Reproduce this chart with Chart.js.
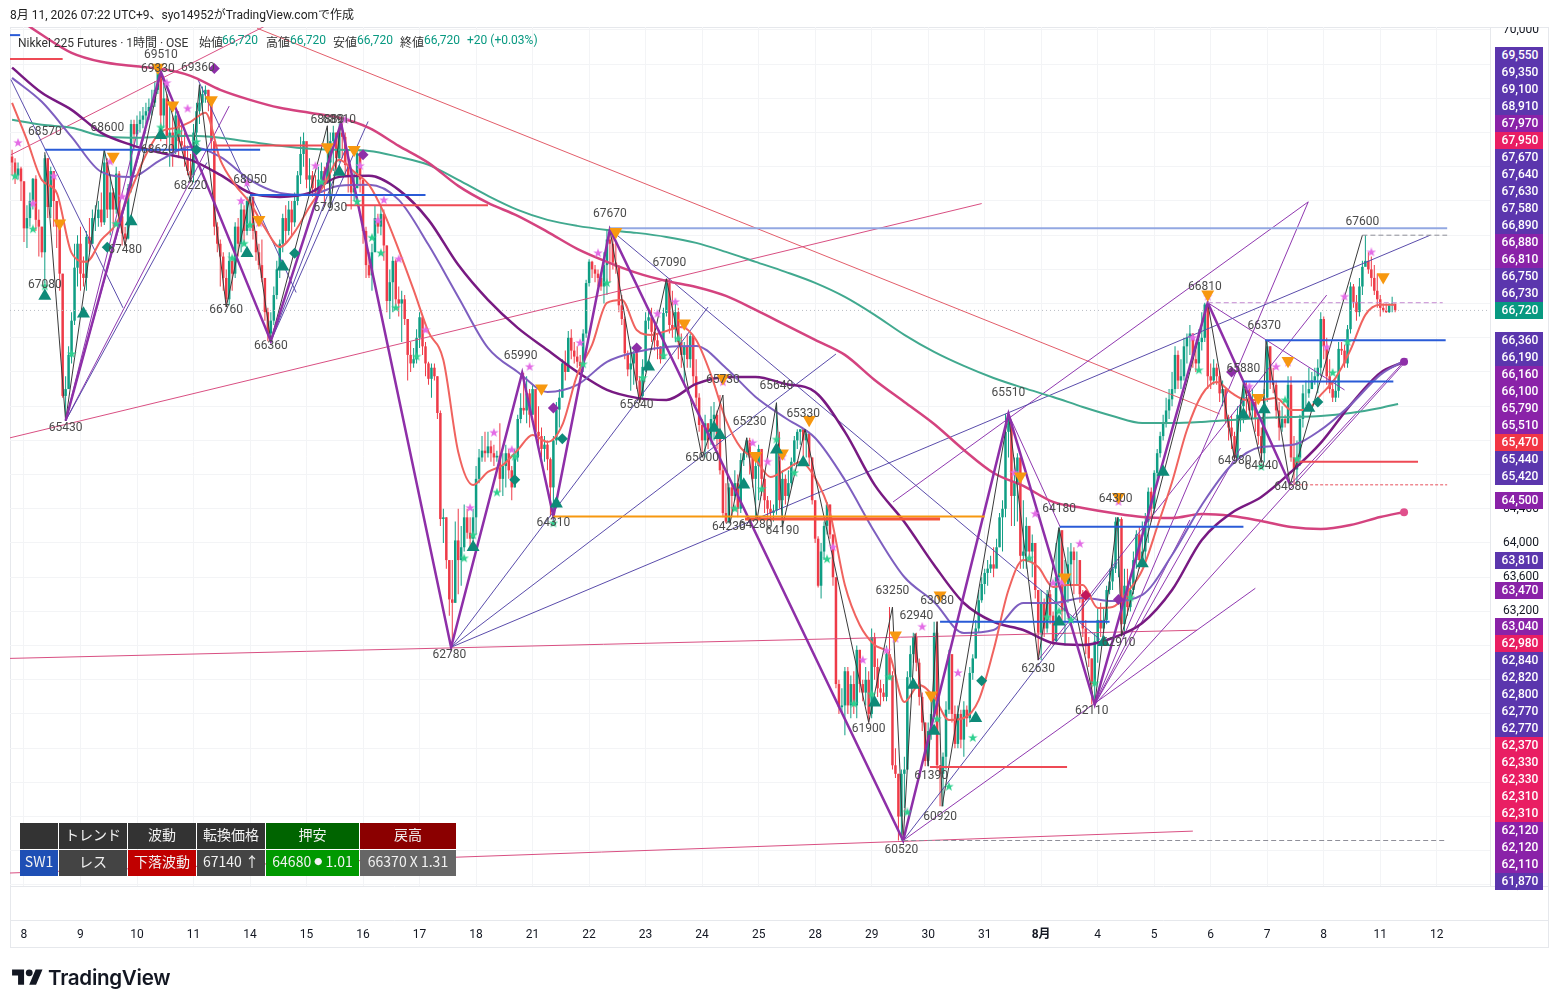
<!DOCTYPE html>
<html lang="ja">
<head>
<meta charset="utf-8">
<title>Nikkei 225 Futures</title>
<script src="https://cdn.jsdelivr.net/npm/chart.js@4"></script>
<style>
  body { margin: 0; background: #fff; font-family: Roboto, "Noto Sans CJK JP", sans-serif; }
  #wrap { position: relative; width: 1558px; height: 1008px; overflow: hidden; }
  #grafico { position: absolute; left: 0; top: 0; }
  #cabecera { position: absolute; left: 0; top: 0; width: 1558px; height: 27px; background: #fff; font-size: 12px; color: #222; }
  #cabecera span { position: absolute; left: 10px; top: 5px; }
  .leyenda { position: absolute; top: 33px; font-size: 12px; color: #333; white-space: nowrap; }
  .leyenda.v { color: #089981; }
  .badge { position: absolute; left: 1495px; width: 46px; padding-left: 2px; height: 17px; text-align: center; color: #fff; font: 500 12px/17px Roboto, sans-serif; }
  #tabla { position: absolute; left: 20px; top: 823px; border-collapse: separate; border-spacing: 1px; margin: -1px; font: 14px/18px "Noto Sans CJK JP", sans-serif; color: #f2f2f2; }
  #tabla td { height: 22px; padding: 0 0 4px 0; text-align: center; white-space: nowrap; }
  #tabla .punto { font-size: 8px; vertical-align: 2px; }
  #logo { position: absolute; left: 12px; top: 966px; }
  #logoTexto { position: absolute; left: 48px; top: 965px; font: 600 20.6px Inter, sans-serif; color: #131722; letter-spacing: -0.3px; }
</style>
</head>
<body>
<div id="wrap">
  <canvas id="grafico" width="1558" height="1008"></canvas>
  <div id="cabecera"><span>8月 11, 2026 07:22 UTC+9、syo14952がTradingView.comで作成</span></div>
  <div class="leyenda" style="left:18px">Nikkei 225 Futures · 1時間 · OSE</div>
  <div class="leyenda" style="left:199px">始値</div><div class="leyenda v" style="left:222px">66,720</div>
  <div class="leyenda" style="left:266px">高値</div><div class="leyenda v" style="left:290px">66,720</div>
  <div class="leyenda" style="left:333px">安値</div><div class="leyenda v" style="left:357px">66,720</div>
  <div class="leyenda" style="left:400px">終値</div><div class="leyenda v" style="left:424px">66,720</div>
  <div class="leyenda v" style="left:467px">+20 (+0.03%)</div>
  <table id="tabla">
    <tr>
      <td style="width:38px;background:#333"></td>
      <td style="width:68px;background:#333">トレンド</td>
      <td style="width:68px;background:#333">波動</td>
      <td style="width:68px;background:#333">転換価格</td>
      <td style="width:93px;background:#006400">押安</td>
      <td style="width:96px;background:#8b0000">戻高</td>
    </tr>
    <tr>
      <td style="background:#1e4fb5">SW1</td>
      <td style="background:#444">レス</td>
      <td style="background:#c00000">下落波動</td>
      <td style="background:#444">67140 ↑</td>
      <td style="background:#009900">64680 <span class="punto">●</span> 1.01</td>
      <td style="background:#666">66370 X 1.31</td>
    </tr>
  </table>
  <svg id="logo" width="31" height="24" viewBox="0 0 36 28"><path fill="#131722" d="M14 22H7V11H0V4h14v18zM28 22h-8l7.5-18h8L28 22z"/><circle fill="#131722" cx="20" cy="8" r="4"/></svg>
  <div id="logoTexto">TradingView</div>
</div>
<script>
// bar numbers: 19 one hour bars per day, bar 0 is the first bar of the 8th
const firstBar = -4;
const dayTicks = [0, 19, 38, 57, 76, 95, 114, 133, 152, 171, 190, 209, 228, 247, 266, 285, 304, 323, 342, 361, 380, 399, 418, 437, 456, 475];
const dayLabels = ["8", "9", "10", "11", "14", "15", "16", "17", "18", "21", "22", "23", "24", "25", "28", "29", "30", "31", "8月", "4", "5", "6", "7", "8", "11", "12"];
const priceTicks = [60000, 60400, 60800, 61200, 61600, 62000, 62400, 62800, 63200, 63600, 64000, 64400, 64800, 65200, 65600, 66000, 66400, 66800, 67200, 67600, 68000, 68400, 68800, 69200, 69600, 70000];

// each hour opens where the previous one closed
const firstOpen = 68520;
const closes = [
  68450,68300,68380,68230,
  67680,67800,68000,68260,67780,67700,67400,68500,67930,68350,68000,67700,67150,65720,65800,66200,66600,67220,67500,
  67150,67100,67580,67500,67800,67800,67900,67750,68450,67900,68100,67900,68320,67820,67620,67560,68150,68900,68780,
  68900,68950,69000,69050,69100,69150,69300,69500,69000,69200,68750,68800,68600,69000,68700,68650,68500,68350,68300,
  68800,69050,69150,69250,69300,69150,68700,67700,67500,67350,67100,66850,67300,67150,67700,67500,67900,67650,68000,
  68050,67650,67400,67250,67100,66700,66450,66600,66900,67200,67500,67800,67650,67900,67750,68000,68300,68550,68700,
  68250,68300,68150,68100,68250,68350,68200,68450,68700,68800,68500,68800,68750,68420,68300,68100,68150,68560,68250,
  67650,67250,67130,67400,67800,67700,67850,67480,66830,67050,67300,66850,66800,66850,66620,66200,66100,66150,66400,
  66640,66300,66100,65920,66050,65950,65520,64280,64300,63800,63340,63300,64030,63800,63950,64300,64120,64050,64300,
  64750,65000,65080,65050,65130,65050,65000,65020,64750,64900,65050,64850,64650,65000,65450,65580,65550,65750,65500,
  65800,65300,65250,65100,65150,64980,64650,65200,65560,65700,66100,66000,66400,66250,66180,66120,66070,66450,67040,
  67290,67200,67150,67100,67000,67250,67550,67500,67280,67230,66780,66620,66220,66030,66100,66220,65900,65720,66060,
  66600,66640,66470,66370,66300,66150,66690,67040,66550,66500,66700,66350,66200,66300,66150,66420,65950,65700,65380,
  65200,65400,65200,65450,65500,65230,64850,64350,64250,64650,64550,64700,64400,64970,65050,65200,65000,64750,64900,
  65100,64750,64500,64400,64350,64380,65100,64500,64750,64550,64700,64950,65200,65300,65330,65200,65280,65000,64500,
  64050,63500,63900,64200,64450,64100,63600,62350,62080,62100,62500,62100,62350,62100,62750,62350,62250,62400,62000,
  62900,62550,62300,62250,62200,62700,62450,61400,61300,60800,61300,61350,62430,62700,62900,62600,62200,61900,61450,
  61800,62000,62950,61400,61300,61500,62050,62700,62000,61650,62000,61700,62050,61950,62480,62650,63000,63330,63520,
  63650,63700,63750,63700,63950,64300,64400,65300,65400,64550,64700,65000,63850,63900,64200,63900,64000,63450,62950,
  63300,63000,63400,63150,62850,63600,64150,63200,63500,63750,63900,63800,63800,63400,63000,62800,62650,62350,62850,
  63100,63000,63100,63450,63550,63700,64250,64280,63050,63500,63250,63450,63800,64100,63800,63900,64250,64600,64400,
  64820,65050,65250,65400,65550,65680,65800,66200,65900,65950,66300,66400,66450,66150,66100,66350,66400,66790,65950,
  65900,66050,65950,65750,65800,65450,65350,65250,65000,65500,65600,65800,65750,65550,65650,65450,65250,65050,65700,66300,
  65900,65850,65550,65350,65450,65400,65850,65000,64860,65000,65450,65750,65750,65800,65900,65950,66050,66620,66300,65950,
  65800,65700,65780,66270,66250,66100,66500,67000,66820,66700,67000,67230,67300,67200,67100,66950,66850,66750,66720,66700,66780,66800,66720
];
const highs = [
  68600,68500,68450,68400,
  68230,67950,68100,68270,68300,67900,67700,68540,68500,68400,68350,68000,67700,67150,65950,66300,66700,67500,67600,
  67700,67350,67650,67800,67900,67950,68000,68100,68600,68500,68300,68150,68400,68350,67850,67700,68200,68950,68950,
  69000,69050,69100,69150,69200,69300,69400,69510,69500,69400,69250,69100,69000,69050,69050,68950,68800,68650,68550,
  68900,69150,69360,69340,69350,69300,69150,68700,67750,67550,67400,67200,67400,67350,67750,67800,68000,67950,68050,
  68060,68000,67650,67500,67550,67100,66750,66700,67000,67300,67550,67850,67950,68000,68000,68100,68350,68750,68800,
  68650,68500,68350,68300,68400,68450,68400,68850,68800,68880,68800,68910,68910,68800,68600,68350,68350,68600,68600,
  68100,67700,67400,67500,67950,67850,67950,67900,67480,67200,67350,67320,67000,66950,66900,66620,66350,66280,66500,
  66700,66650,66350,66120,66100,66100,65950,65550,64400,64300,63800,63800,64250,64400,64200,64450,64400,64300,64400,
  64900,65100,65250,65300,65300,65200,65150,65080,65400,65050,65150,65100,64900,65100,65500,65750,65990,65950,65800,
  65850,65650,65600,65350,65250,65200,65000,65250,65650,65800,66150,66250,66480,66500,66350,66300,66200,66500,67080,
  67320,67300,67250,67200,67150,67400,67670,67670,67620,67510,67250,66900,66650,66250,66300,66250,66250,65950,66150,
  66700,66750,66750,66600,66450,66300,66750,67090,67090,66950,66800,66750,66450,66350,66450,66450,66420,66150,65750,
  65450,65500,65400,65600,65650,65550,65730,64900,64700,64700,64700,64850,64800,65050,65100,65230,65230,65050,65000,
  65150,65100,64800,64550,64500,64450,65640,65300,64850,64800,64850,65000,65250,65330,65330,65330,65300,65300,65000,
  64500,64080,64000,64250,64480,64450,64100,63550,62400,62300,62550,62550,62450,62500,62800,62750,62400,62550,62500,
  63000,62950,62650,62400,62350,62800,63250,62500,61600,61300,61350,61500,62500,62800,62950,62950,62650,62250,61900,
  61900,62150,63080,63080,61400,61550,62150,62750,62500,62100,62100,62050,62150,62100,62550,62700,63100,63450,63600,
  63700,63800,63850,63950,64050,64350,64500,65510,65510,65400,65000,65050,64400,64500,64300,64150,64100,64000,63400,
  63450,63350,63450,63450,63200,64000,64180,63800,63800,63950,64000,63950,63900,63800,63450,63100,62900,62650,62950,
  63250,63300,63250,63500,63700,63850,64300,64300,64300,63700,63700,63550,63900,64150,64200,64250,64350,64650,64650,
  64850,65100,65300,65500,65700,65800,66000,66300,66250,66150,66400,66450,66550,66450,66300,66500,66700,66810,66810,
  66100,66150,66100,66000,65900,65700,65500,65500,65300,65600,65700,65900,65880,65850,65800,65700,65450,65350,65800,66370,
  66300,66050,65900,65650,65600,65500,65950,65950,65250,65200,65500,65850,65900,66050,66000,66050,66150,66700,66650,66400,
  66150,65900,65900,66350,66350,66320,66550,67050,67030,66900,67100,67300,67600,67400,67350,67250,67150,66900,66800,66800,66800,66880,66790
];
const lows = [
  68300,68200,68250,68000,
  67520,67450,67700,67900,67650,67350,67340,67040,67800,67800,67700,67450,66950,65700,65430,65800,66100,66550,67000,
  66950,67000,66950,67400,67500,67650,67700,67700,67720,67800,67600,67700,67850,67700,67480,67480,67550,68100,68600,
  68650,68800,68850,68900,68950,69000,69100,69250,68700,68850,68650,68400,68400,68550,68500,68600,68400,68300,68220,
  68220,68650,68900,69050,69150,69050,68600,67600,67400,67000,66950,66760,66780,66950,67100,67350,67400,67500,67600,
  67650,67550,67300,67200,67050,66600,66360,66360,66550,66850,67100,67400,67500,67600,67600,67700,67950,68200,68400,
  68150,68100,68050,67950,68050,68100,67930,68350,67930,68350,68350,68450,68500,68300,68100,67900,68000,68150,68100,
  67500,67100,67100,66950,67450,67620,67600,67300,66700,66620,66700,66780,66650,66350,66550,65900,66000,66050,66100,
  66280,66200,65950,65850,65700,65900,65450,64200,64000,63700,63150,62780,63300,63400,63500,63900,64050,63950,64000,
  64100,64700,64950,64950,65000,64950,64900,64950,64600,64550,64650,64750,64500,64650,64950,65400,65500,65400,65350,
  65500,65250,65100,65000,64950,64850,64310,64310,65150,65350,65700,65900,66050,66150,66100,66050,66000,66000,66400,
  67000,67100,67050,67000,66950,66800,66900,67050,67200,67150,66700,66550,66150,65950,65780,65850,65800,65640,65700,
  66000,66500,66350,66250,66150,66100,66200,66650,66450,66400,66350,66150,66050,65850,66050,66050,65850,65600,65300,
  65050,65000,65100,65150,65200,65100,64800,64300,64230,64230,64300,64500,64300,64350,64900,65000,64800,64650,64280,
  64500,64550,64350,64300,64250,64250,64330,64400,64190,64450,64500,64650,64900,65100,65150,65000,65000,64900,64450,
  64000,63480,63350,63800,64100,64050,63500,62300,62000,62000,61750,62000,61950,62000,61950,62250,62150,62100,61900,
  61950,62400,62200,62100,62150,62150,62400,61350,61250,60520,60520,60900,61350,62300,62600,62500,62100,61800,61390,
  61390,61700,61950,61350,60920,60920,61350,62000,61900,61600,61600,61600,61500,61850,61900,62400,62650,62950,63300,
  63400,63500,63650,63600,63800,63950,63900,64300,65000,64200,64200,64250,63700,63700,63700,63800,63600,63350,62630,
  62630,62900,62950,63050,62800,62850,63500,63100,62800,63300,63500,63400,63500,63300,62900,62700,62550,62110,62110,
  62600,62900,62950,63050,63400,63450,63650,63600,62910,62910,63150,63200,63400,63700,63700,63800,63800,64000,64250,
  64350,64700,65000,65200,65350,65450,65600,65750,65800,65800,65900,66100,66200,66050,66000,66050,66250,66350,65800,
  65800,65850,65850,65650,65600,65400,65200,65100,64980,64980,65300,65400,65500,65450,65450,65300,65150,64940,64940,65650,
  65800,65750,65450,65200,65300,65350,65400,64950,64680,64680,64900,65350,65600,65700,65800,65850,65750,65950,66150,65850,
  65750,65650,65650,65700,66200,66050,66050,66450,66750,66600,66650,66900,67250,67150,67000,66900,66750,66650,66700,66690,66690,66700,66700
];

// moving averages, read every 10 bars from bar -4, last value at the line end
const maPurple = [69440,69160,68750,68340,68282,68481,68633,68516,68247,68095,68072,68177,68189,68013,67487,66878,66282,66000,65767,65849,66118,66235,66293,66305,66047,65708,65462,65228,64737,64129,63602,63310,62947,62982,63298,63298,63357,63321,63392,63860,64445,64912,65123,65146,65322,65615,65966,66130];
const maDark = [69560,69265,69066,68797,68657,68563,68481,68306,68095,68048,68095,68282,68294,68130,67779,67253,66843,66516,66258,66001,65790,65697,65673,65860,65942,65942,65860,65767,65299,64679,64246,63743,63298,63076,62982,62830,62807,62889,63064,63450,64035,64351,64538,64830,65170,65615,65989,66118];
const maPink = [70178,69944,69733,69628,69581,69546,69464,69300,69183,69090,69031,68973,68855,68645,68446,68177,67978,67826,67639,67440,67288,67159,67065,66995,66890,66726,66551,66375,66200,65907,65650,65392,65088,64819,64667,64480,64410,64351,64304,64292,64339,64316,64257,64187,64164,64210,64304,64362];
const maGreen = [68949,68891,68856,68762,68739,68750,68762,68739,68692,68645,68610,68598,68586,68516,68423,68247,68060,67896,67779,67709,67662,67627,67580,67510,67405,67288,67171,67042,66878,66668,66434,66235,66071,65930,65814,65708,65591,65486,65404,65404,65416,65439,65463,65474,65486,65521,65580,65626];
const maLastBar = 464;
const maGreenLastBar = 462;
// fast average, read every 5 bars from bar -4
const maFast = [69148,68715,68247,68095,67393,67288,67545,67732,68130,68540,68809,68855,68926,69031,68481,68189,67978,67686,67463,67639,67931,68189,68481,68341,68189,67861,67428,66960,66469,66141,65065,64679,64831,64912,65088,65264,65182,65381,65966,66317,66808,66843,66492,66434,66480,66527,66375,65966,65439,65112,64971,64772,64854,64948,64761,64351,63509,63041,62807,62690,62140,62339,62198,61929,61953,62163,62748,63450,63801,63719,63485,63509,63509,63240,63251,63427,63684,64187,64714,65322,65732,65884,65755,65673,65673,65697,65556,65556,65732,65931,66258,66668,66785,66785];

// zigzag pivots
const majorBars = [14, 46, 83, 106.6, 143.6, 167.5, 178, 197, 295.6, 331, 360, 398, 425.7];
const majorPrices = [65430, 69510, 66360, 68910, 62780, 65990, 64310, 67670, 60520, 65510, 62110, 66810, 64680];
const minorBars = [7, 14, 27, 34, 46, 56, 59, 68, 76, 83, 102, 103, 106.6, 143.6, 167.5, 178, 197, 207, 216, 228, 235, 237.4, 243, 246.5, 253, 255, 262.6, 284, 292, 295.6, 299.6, 304, 307, 308.7, 331, 341, 348, 360, 367.6, 369, 398, 407, 410, 416, 417.6, 425.7, 450];
const minorPrices = [68570, 65430, 68600, 67480, 69510, 68220, 69360, 66760, 68050, 66360, 68880, 67930, 68910, 62780, 65990, 64310, 67670, 65640, 67090, 65000, 65730, 64230, 65230, 64280, 65640, 64190, 65330, 61900, 63250, 60520, 62940, 61390, 63080, 60920, 65510, 62630, 64180, 62110, 64300, 62910, 66810, 64980, 65880, 64940, 66370, 64680, 67600];

// trend lines: start bar, start price, end bar, end price
const navyLines = [
  [-4.4, 69420, 33.3, 66750], [14, 65430, 61.5, 68450], [14, 65430, 41, 68830], [83, 66360, 115.7, 68930],
  [83, 66360, 108, 68600], [58.5, 69420, 91.5, 66930], [143.6, 62780, 230, 66760], [143.6, 62780, 273, 66210],
  [143.6, 62780, 472.8, 67600], [197, 67670, 361.8, 62870], [295.6, 60520, 367.6, 63770]
];
const purpleLines = [
  [14, 65430, 38.3, 68830], [14, 65430, 69, 69110], [292.2, 64480, 431.8, 67990], [295.6, 60520, 414, 63470],
  [360, 62110, 431.8, 67990], [360, 62110, 465, 66140], [360, 62110, 409, 65110], [360, 62110, 392, 64270],
  [341, 62630, 438, 66900], [425.7, 64680, 465, 66160], [398, 66810, 444, 65790], [331, 65510, 348.5, 64180]
];
const pinkLines = [[-4.4, 68540, 80.7, 70040], [-4.7, 65230, 322, 67970], [-4.7, 62650, 394.4, 62980], [-4.7, 60140, 393, 60630]];
const redLines = [[78.4, 70020, 402, 65510]];

// horizontal levels: start bar, end bar, price
const blueLevels = [[7, 79.4, 68600], [76, 135, 68070], [348.3, 410, 64190], [308, 365, 63080], [417.3, 478, 66370], [410, 460.4, 65890], [-4.7, -1.3, 69940]];
const redLevels = [[64, 101, 68650], [108, 156, 67950], [304.6, 350.7, 61380], [427.4, 468.7, 64950], [-4.7, 13, 69660]];
const orangeLevels = [[178, 323, 64310]];
const thickRedLevels = [[242.4, 308, 64280]];
const paleBlueLevels = [[197, 478.5, 67680]];
const dashedPink = [[398, 477, 66810]];
const dashedGray = [[450, 478.5, 67600], [295.6, 478.5, 60520]];
const dashedRed = [[425.7, 478.5, 64680]];
const lastPrice = 66720;

// signal markers: bar, price
const upTriangles = [[7,66890],[20,66680],[36,67760],[46,68770],[75,67390],[87,67230],[106,68340],[151,63950],[179,64460],[210,66060],[232,65345],[234,65260],[242,64680],[253,65090],[262,64940],[286,62130],[299,62340],[306,61800],[320,61950],[348,63080],[363,62840],[376,63760],[383,64830],[410,65500],[417,65560],[432,65580]];
const downTriangles = [[12,67740],[30,68520],[45,69560],[50,69120],[63,69180],[79,67780],[102,68630],[111,68600],[174,65810],[199,67640],[222,66570],[235,65930],[246,65020],[255,65050],[264,65440],[293,62920],[308,63390],[305,62220],[350,63600],[335,64780],[368,64540],[398,66910],[415,65700],[425,66130],[457,67110]];
const greenDiamonds = [[28,67460],[91,67390],[58,68600],[165,64740],[181,65220],[322,62390],[435,65650]];
const purpleDiamonds = [[64,69550],[114,68540],[178,65580],[206,66280],[406,66000],[368,63340]];
const crimsonDiamonds = [[357,63390]];
const endDotsPurple = [[464,66120]];
const endDotsPink = [[464,64360]];
const pinkStars = [[-2,68680],[10,68290],[3,67970],[29,68460],[33,68050],[48,69380],[55,69080],[75,68210],[73,68000],[79,67740],[98,68410],[108,68950],[113,68410],[121,68010],[119,67770],[126,67320],[135,66490],[150,64410],[158,65290],[164,65090],[170,66060],[187,66340],[193,67390],[213,66680],[219,66820],[222,66550],[235,65880],[245,65170],[250,64950],[255,65010],[272,63950],[282,62630],[290,62740],[293,62880],[302,63020],[314,62480],[333,64820],[340,64340],[346,63530],[349,63540],[355,63990],[368,64480],[393,66400],[398,66880],[412,65830],[421,66060],[425,66110],[438,66290],[444,66880],[453,67400]];
const greenStars = [[-3,68290],[3,67670],[7,67000],[16,66210],[31,67730],[46,68860],[52,68810],[58,68690],[70,67330],[74,67500],[76,67720],[100,68220],[112,67990],[117,67570],[120,67390],[125,66750],[132,66180],[148,63820],[151,64090],[159,64590],[165,65010],[178,64230],[188,66090],[196,67040],[208,65930],[215,66190],[220,66390],[232,65350],[239,64400],[248,64630],[253,65210],[259,64820],[270,63810],[279,62120],[285,62230],[291,62430],[297,60850],[307,61940],[311,61150],[319,61720],[338,63820],[344,63130],[348,63200],[352,63100],[360,62360],[372,63360],[395,66020],[416,64890],[424,65670],[428,64980],[440,65990],[445,66350]];

// pivot labels: text, bar, price where the text sits
const pivotLabels = [
  ["68570",7,68810],["68600",28,68850],["69510",46,69710],["69330",45,69540],["69360",58.5,69560],["68620",45,68600],["68220",56,68180],["68050",76,68240],
  ["67480",34,67430],["67080",7,67020],["66760",68,66720],["66360",83,66300],["68880",102,68950],["68910",106,68950],["67930",103,67920],["65430",14,65340],
  ["65990",167,66190],["62780",143,62690],["64310",178,64230],["67670",197,67850],["67090",217,67270],["65640",206,65610],["65730",235,65910],["65640",253,65840],
  ["65330",262,65510],["65230",244,65410],["65000",228,64990],["64230",237,64190],["64280",246,64210],["64190",255,64140],["63250",292,63440],["62940",300,63150],
  ["63080",307,63320],["61900",284,61820],["61390",305,61280],["60920",308,60790],["60520",295,60410],["65510",331,65750],["64180",348,64400],["64300",367,64510],
  ["62630",341,62530],["62910",368,62830],["62110",359,62030],["66810",397,66990],["66370",417,66540],["65880",410,66040],["64980",407,64960],["64940",416,64900],
  ["64680",426,64660],["67600",450,67760]
];

// labels on the price axis, stacked from the top
const badgeColors = { i: "#5b36ad", v: "#8a22a8", c: "#e91e63", r: "#f23645", g: "#089981" };
const badgeGroups = [
  { top: 47, rows: [["69,550","i"],["69,350","i"],["69,100","i"],["68,910","i"],["67,970","v"],["67,950","c"],["67,670","i"],["67,640","i"],["67,630","i"],["67,580","i"],["66,890","i"],["66,880","v"],["66,810","v"],["66,750","i"],["66,730","i"],["66,720","g"]] },
  { top: 332, rows: [["66,360","i"],["66,190","i"],["66,160","v"],["66,100","v"],["65,790","v"],["65,510","v"],["65,470","r"],["65,440","i"],["65,420","i"]] },
  { top: 492, rows: [["64,500","v"]] },
  { top: 552, rows: [["63,810","i"]] },
  { top: 582, rows: [["63,470","v"]] },
  { top: 618, rows: [["63,040","v"],["62,980","c"],["62,840","i"],["62,820","i"],["62,800","i"],["62,770","i"],["62,770","i"],["62,370","c"],["62,330","c"],["62,330","c"],["62,310","c"],["62,310","c"],["62,120","v"],["62,120","v"],["62,110","v"],["61,870","i"]] }
];

var wrap = document.getElementById("wrap");
badgeGroups.forEach(function (grupo) {
    grupo.rows.forEach(function (fila, i) {
        var d = document.createElement("div");
        d.className = "badge";
        d.style.top = (grupo.top + i * 17) + "px";
        d.style.background = badgeColors[fila[1]];
        d.textContent = fila[0];
        wrap.appendChild(d);
    });
});

function estrella(color) {
    var c = document.createElement("canvas");
    c.width = 10; c.height = 10;
    var g = c.getContext("2d");
    g.fillStyle = color;
    g.beginPath();
    for (var i = 0; i < 10; i++) {
        var r = i % 2 ? 2 : 5;
        var a = -Math.PI / 2 + i * Math.PI / 5;
        g.lineTo(5 + r * Math.cos(a), 5 + r * Math.sin(a));
    }
    g.closePath();
    g.fill();
    return c;
}

function linea(puntos, color, ancho, guiones) {
    return { type: "line", data: puntos, borderColor: color, borderWidth: ancho, borderDash: guiones || [], pointRadius: 0, fill: false };
}
function segmentos(lista, color, ancho) {
    return lista.map(function (s) { return linea([{ x: s[0], y: s[1] }, { x: s[2], y: s[3] }], color, ancho); });
}
function niveles(lista, color, ancho, guiones) {
    return lista.map(function (s) { return linea([{ x: s[0], y: s[2] }, { x: s[1], y: s[2] }], color, ancho, guiones); });
}
function marcas(lista, estilo, color, radio, giro) {
    return {
        type: "line", showLine: false, data: lista.map(function (m) { return { x: m[0], y: m[1] }; }),
        pointStyle: estilo, pointRadius: radio, pointRotation: giro || 0, pointBackgroundColor: color, pointBorderColor: color, pointBorderWidth: 0
    };
}
function media(valores, paso, ultimo) {
    return valores.map(function (v, i) {
        return { x: (ultimo !== undefined && i === valores.length - 1) ? ultimo : firstBar + i * paso, y: v };
    });
}
function zigzag(barras, precios) {
    return barras.map(function (b, i) { return { x: b, y: precios[i] }; });
}

var cuerpos = [], mechas = [], colores = [];
closes.forEach(function (c, i) {
    var abre = i === 0 ? firstOpen : closes[i - 1];
    var x = firstBar + i;
    cuerpos.push({ x: x, y: [Math.min(abre, c), Math.max(abre, c)] });
    mechas.push({ x: x, y: [lows[i], highs[i]] });
    colores.push(c >= abre ? "#0f9e84" : "#ee3b48");
});

var suave = function (ds) { ds.cubicInterpolationMode = "monotone"; return ds; };

// first dataset is drawn on top
var datasets = [].concat(
    [marcas(upTriangles, "triangle", "#0e8a78", 7.5)],
    [marcas(downTriangles, "triangle", "#f7980f", 7.5, 180)],
    [marcas(greenDiamonds, "rectRot", "#0e8a78", 5.5)],
    [marcas(purpleDiamonds, "rectRot", "#8e2fa8", 5.5)],
    [marcas(crimsonDiamonds, "rectRot", "#c2185b", 5.5)],
    [marcas(endDotsPurple, "circle", "#8e2fa8", 4)],
    [marcas(endDotsPink, "circle", "#e0508c", 4)],
    [marcas(pinkStars, estrella("#e36ce6"), "#e36ce6", 5)],
    [marcas(greenStars, estrella("#2fd08f"), "#2fd08f", 5)],
    niveles(blueLevels, "#2a5bd7", 2),
    niveles(thickRedLevels, "#f4543c", 3),
    niveles(orangeLevels, "#f7980f", 2),
    niveles(redLevels, "#ee4a55", 2),
    niveles(paleBlueLevels, "#93a8e2", 2),
    niveles(dashedPink, "#c58ad0", 1, [5, 3]),
    niveles(dashedGray, "#8f8f99", 1, [5, 3]),
    niveles(dashedRed, "#e8505b", 1, [3, 2]),
    [linea(zigzag(majorBars, majorPrices), "#8e2fa8", 2.5)],
    [linea(zigzag(minorBars, minorPrices), "#3a3a3a", 1)],
    [suave(linea(media(maFast, 5), "#f0635f", 2))],
    [suave(linea(media(maPurple, 10, maLastBar), "#7e5fc0", 2))],
    [suave(linea(media(maDark, 10, maLastBar), "#781a82", 2.5))],
    [suave(linea(media(maPink, 10, maLastBar), "#d4437f", 2.5))],
    [suave(linea(media(maGreen, 10, maGreenLastBar), "#41a98f", 2))],
    segmentos(navyLines, "#5a4cab", 1),
    segmentos(purpleLines, "#9038b0", 1),
    segmentos(pinkLines, "#d94f82", 1),
    segmentos(redLines, "#e35d6a", 1),
    niveles([[-4.7, 492.9, lastPrice]], "#b9bcc4", 1, [1, 3]),
    [{ type: "bar", data: cuerpos, backgroundColor: colores, barThickness: 2.5, grouped: false, inflateAmount: 0 }],
    [{ type: "bar", data: mechas, backgroundColor: colores, barThickness: 1, grouped: false, inflateAmount: 0 }]
);

var marco = {
    id: "marco",
    beforeDraw: function (chart) {
        var g = chart.ctx, a = chart.chartArea;
        g.save();
        g.fillStyle = "#fff";
        g.fillRect(0, 0, chart.width, chart.height);
        g.strokeStyle = "#e6e8ec";
        g.lineWidth = 1;
        g.strokeRect(a.left + 0.5, a.top + 0.5, 1538, 920);
        g.beginPath();
        g.moveTo(a.left, a.bottom + 0.5); g.lineTo(a.left + 1538, a.bottom + 0.5);
        g.moveTo(a.left, a.bottom + 34.5); g.lineTo(a.left + 1538, a.bottom + 34.5);
        g.moveTo(a.right + 0.5, a.top); g.lineTo(a.right + 0.5, a.bottom);
        g.stroke();
        g.restore();
    }
};

var etiquetas = {
    id: "etiquetas",
    afterDatasetsDraw: function (chart) {
        var g = chart.ctx;
        g.save();
        g.font = "12px Roboto, sans-serif";
        g.fillStyle = "#4a4a4a";
        g.textAlign = "center";
        g.textBaseline = "middle";
        pivotLabels.forEach(function (e) {
            g.fillText(e[0], chart.scales.x.getPixelForValue(e[1]), chart.scales.y.getPixelForValue(e[2]));
        });
        g.restore();
    }
};

new Chart(document.getElementById("grafico"), {
    type: "bar",
    data: { datasets: datasets },
    plugins: [marco, etiquetas],
    options: {
        responsive: false,
        animation: false,
        layout: { padding: { left: 10, top: 27, right: 10, bottom: 60 } },
        plugins: { legend: { display: false }, tooltip: { enabled: false } },
        scales: {
            x: {
                type: "linear", min: -4.7, max: 492.9, offset: false,
                // the tick length only pushes the day labels down past the empty pane
                grid: { color: "#f3f4f6", offset: false, drawTicks: true, tickLength: 42, tickColor: "rgba(0,0,0,0)" },
                border: { display: false },
                afterBuildTicks: function (scale) { scale.ticks = dayTicks.map(function (v) { return { value: v }; }); },
                afterFit: function (scale) { scale.height = 62; },
                ticks: {
                    autoSkip: false, maxRotation: 0, padding: 0, color: "#131722",
                    font: function (ctx) { return { family: "Roboto, 'Noto Sans CJK JP', sans-serif", size: 12, weight: ctx.index === 18 ? "bold" : "normal" }; },
                    callback: function (v, i) { return dayLabels[i]; }
                }
            },
            y: {
                position: "right", min: 59988, max: 70035,
                grid: { color: "#f3f4f6", drawTicks: false },
                border: { display: false },
                afterBuildTicks: function (scale) { scale.ticks = priceTicks.map(function (v) { return { value: v }; }); },
                afterFit: function (scale) { scale.width = 58; },
                ticks: {
                    padding: 13, color: "#131722", font: { family: "Roboto, sans-serif", size: 12 },
                    callback: function (v) { return v.toLocaleString("en-US"); }
                }
            }
        }
    }
});
</script>
</body>
</html>
